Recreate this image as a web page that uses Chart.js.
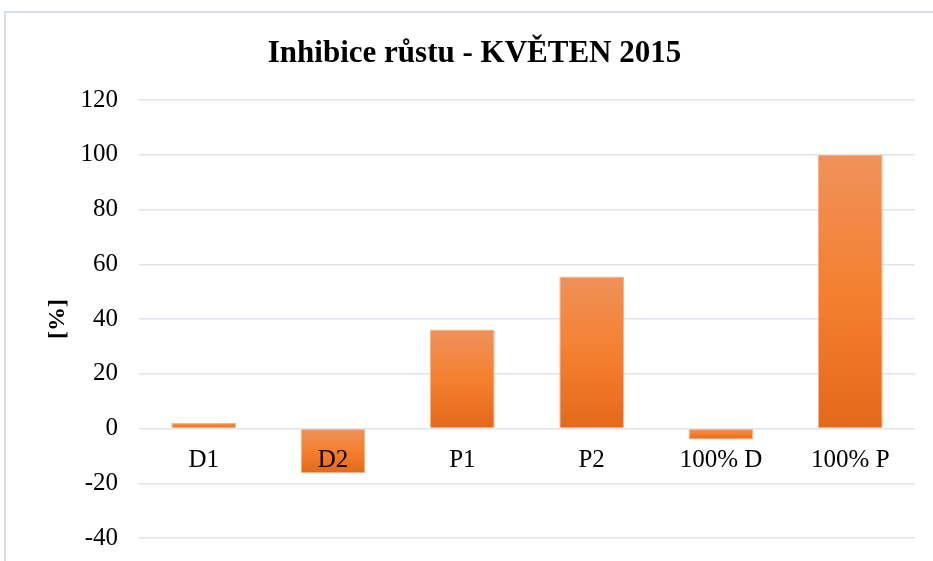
<!DOCTYPE html>
<html lang="cs">
<head>
    <meta charset="UTF-8">
    <title>Inhibice růstu - KVĚTEN 2015</title>
    <style>
        body {
            margin: 0;
            padding: 0;
            background: #ffffff;
        }
        #wrap {
            width: 933px;
            height: 561px;
        }
    </style>
</head>
<body>
    <div id="wrap">
        <canvas id="myChart" width="933" height="561"></canvas>
    </div>

    <script src="https://cdn.jsdelivr.net/npm/chart.js"></script>
    <script>
        // Data
        const categories = ['D1', 'D2', 'P1', 'P2', '100% D', '100% P'];
        const inhibition = [2, -16.3, 36.2, 55.6, -4, 100];
        const yTicks = [-40, -20, 0, 20, 40, 60, 80, 100, 120];

        const serif = '"Liberation Serif", "Times New Roman", serif';

        // each bar gets its own light-to-dark gradient, top to bottom
        function barGradient(context) {
            const chart = context.chart;
            if (!chart.chartArea || context.type !== 'data') return '#F07B2C';
            const y = chart.scales.y;
            const v = context.dataset.data[context.dataIndex];
            const p1 = y.getPixelForValue(v);
            const p0 = y.getPixelForValue(0);
            const top = Math.min(p0, p1), bot = Math.max(p0, p1);
            if (bot - top < 2) return '#F07B2C';
            const g = chart.ctx.createLinearGradient(0, top, 0, bot);
            g.addColorStop(0, '#F0915B');
            g.addColorStop(0.5, '#F4802F');
            g.addColorStop(1, '#E4691A');
            return g;
        }

        // light frame round the chart, like the office chart border
        const framePlugin = {
            id: 'frame',
            beforeDraw(chart) {
                const ctx = chart.ctx;
                ctx.save();
                ctx.strokeStyle = '#d9dde6';
                ctx.lineWidth = 2;
                ctx.strokeRect(5, 12, 1000, 1000);
                ctx.restore();
            }
        };

        new Chart(document.getElementById('myChart'), {
            type: 'bar',
            data: {
                labels: categories,
                datasets: [{
                    label: 'Inhibice',
                    data: inhibition,
                    backgroundColor: barGradient,
                    borderColor: 'rgba(248, 170, 120, 0.9)',
                    borderWidth: 1,
                    categoryPercentage: 1,
                    barPercentage: 0.5
                }]
            },
            options: {
                responsive: false,
                animation: false,
                layout: {
                    // left/right uneven so the title centre matches the picture
                    padding: { left: 34, right: 18, top: 0, bottom: 23 }
                },
                plugins: {
                    legend: { display: false },
                    tooltip: { enabled: false },
                    title: {
                        display: true,
                        text: 'Inhibice růstu - KVĚTEN 2015',
                        color: '#000',
                        font: { family: serif, size: 31, weight: 'bold' },
                        padding: { top: 35, bottom: 28 }
                    }
                },
                scales: {
                    x: {
                        position: { y: 0 },
                        grid: { display: false, drawTicks: false },
                        border: { display: false },
                        ticks: {
                            z: 1, // labels sit on top of the negative bar
                            color: '#000',
                            padding: 17,
                            font: { family: serif, size: 25 }
                        }
                    },
                    y: {
                        min: -40,
                        max: 120,
                        afterBuildTicks(scale) {
                            scale.ticks = yTicks.map(v => ({ value: v }));
                        },
                        afterFit(scale) {
                            scale.width = 105;
                            // keep the tick labels from pushing the plot inward
                            scale.paddingTop = 0;
                            scale.paddingBottom = 0;
                        },
                        grid: {
                            color: '#e1e4ec',
                            lineWidth: 1.5,
                            drawTicks: false
                        },
                        border: { display: false },
                        ticks: {
                            color: '#000',
                            padding: 21,
                            font: { family: serif, size: 25 }
                        },
                        title: {
                            display: true,
                            text: '[%]',
                            color: '#000',
                            font: { family: serif, size: 24, weight: 'bold' },
                            padding: { top: 9, bottom: 0 }
                        }
                    }
                }
            },
            plugins: [framePlugin]
        });
    </script>
</body>
</html>
